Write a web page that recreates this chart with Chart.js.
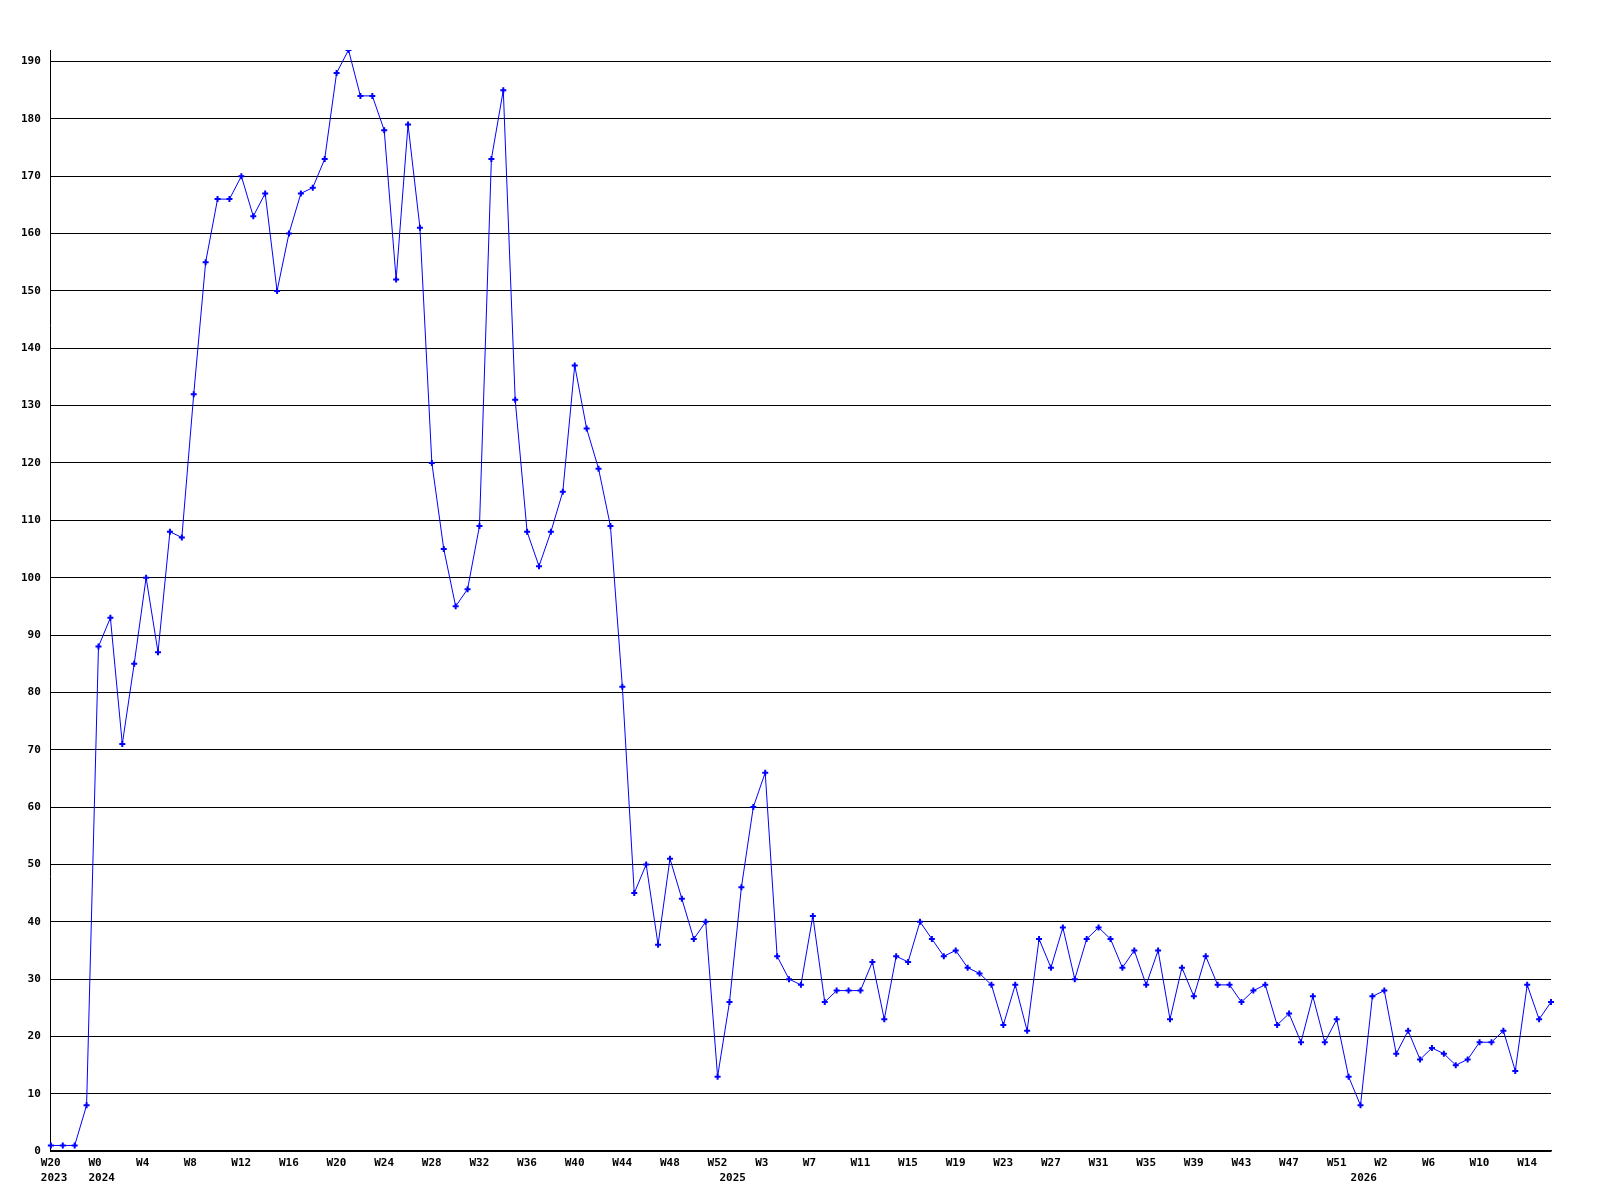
<!DOCTYPE html>
<html>
<head>
<meta charset="utf-8">
<script src="https://cdn.jsdelivr.net/npm/chart.js@4.4.1/dist/chart.umd.min.js"></script>
<style>
  body { margin: 0; background: #fff; }
  canvas { display: block; }
</style>
</head>
<body>
<canvas id="chart" width="1600" height="1200"></canvas>
<script>
// week labels, one per point
const weeks = [
  "W20", "W21", "W22", "W23",
  "W0", "W1", "W2", "W3", "W4", "W5", "W6", "W7", "W8", "W9", "W10", "W11", "W12", "W13",
  "W14", "W15", "W16", "W17", "W18", "W19", "W20", "W21", "W22", "W23", "W24", "W25", "W26",
  "W27", "W28", "W29", "W30", "W31", "W32", "W33", "W34", "W35", "W36", "W37", "W38", "W39",
  "W40", "W41", "W42", "W43", "W44", "W45", "W46", "W47", "W48", "W49", "W50", "W51", "W52",
  "W0", "W1", "W2", "W3", "W4", "W5", "W6", "W7", "W8", "W9", "W10", "W11", "W12", "W13",
  "W14", "W15", "W16", "W17", "W18", "W19", "W20", "W21", "W22", "W23", "W24", "W25", "W26",
  "W27", "W28", "W29", "W30", "W31", "W32", "W33", "W34", "W35", "W36", "W37", "W38", "W39",
  "W40", "W41", "W42", "W43", "W44", "W45", "W46", "W47", "W48", "W49", "W50", "W51", "W52",
  "W0", "W1", "W2", "W3", "W4", "W5", "W6", "W7", "W8", "W9", "W10", "W11", "W12", "W13",
  "W14", "W15", "W16"
];

// year shown under the first week of each year
const yearMarks = [[0, "2023"], [4, "2024"], [57, "2025"], [110, "2026"]];

const counts = [
  1, 1, 1, 8,
  88, 93, 71, 85, 100, 87, 108, 107, 132, 155, 166, 166, 170, 163,
  167, 150, 160, 167, 168, 173, 188, 192, 184, 184, 178, 152, 179,
  161, 120, 105, 95, 98, 109, 173, 185, 131, 108, 102, 108, 115,
  137, 126, 119, 109, 81, 45, 50, 36, 51, 44, 37, 40, 13,
  26, 46, 60, 66, 34, 30, 29, 41, 26, 28, 28, 28, 33, 23,
  34, 33, 40, 37, 34, 35, 32, 31, 29, 22, 29, 21, 37,
  32, 39, 30, 37, 39, 37, 32, 35, 29, 35, 23, 32, 27,
  34, 29, 29, 26, 28, 29, 22, 24, 19, 27, 19, 23, 13,
  8, 27, 28, 17, 21, 16, 18, 17, 15, 16, 19, 19, 21, 14,
  29, 23, 26
];

const yMax = 192;
const yTicks = [0, 10, 20, 30, 40, 50, 60, 70, 80, 90, 100, 110, 120, 130, 140, 150, 160, 170, 180, 190];

const tickFont = { family: "'DejaVu Sans Mono', monospace", size: 11, weight: "bold", lineHeight: 1.4 };

const years = {};
yearMarks.forEach(([i, y]) => { years[i] = y; });

new Chart(document.getElementById("chart").getContext("2d"), {
  type: "line",
  data: {
    labels: weeks,
    datasets: [{
      data: counts,
      borderColor: "#0000ff",
      borderWidth: 1,
      backgroundColor: "#0000ff",
      pointStyle: "cross",
      pointRadius: 3,
      pointBorderWidth: 2,
      pointBorderColor: "#0000ff",
      tension: 0,
      fill: false
    }]
  },
  options: {
    responsive: false,
    animation: false,
    devicePixelRatio: 1,
    layout: { padding: { left: 11, top: 50, right: 49, bottom: 10 } },
    plugins: { legend: { display: false }, tooltip: { enabled: false } },
    scales: {
      x: {
        grid: { display: false, drawTicks: false },
        border: { display: true, color: "#000", width: 1.5 },
        ticks: {
          autoSkip: false,
          maxRotation: 0,
          minRotation: 0,
          align: "start",
          labelOffset: -10,
          padding: 4,
          color: "#000",
          font: tickFont,
          callback: (value, index) => [index % 4 === 0 ? weeks[index] : "", years[index] || ""]
        }
      },
      y: {
        min: 0,
        max: yMax,
        afterBuildTicks: (scale) => {
          scale.ticks = yTicks.map((v) => ({ value: v }));
        },
        grid: { color: "#000", lineWidth: 1, drawTicks: false },
        border: { display: true, color: "#000", width: 1 },
        ticks: {
          padding: 10,
          color: "#000",
          font: tickFont
        }
      }
    }
  }
});
</script>
</body>
</html>
